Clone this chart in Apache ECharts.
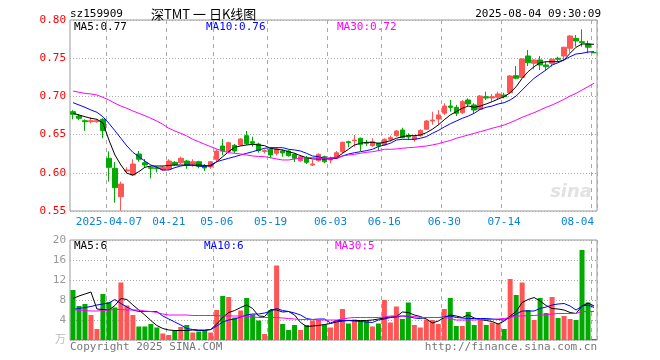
<!DOCTYPE html>
<html><head><meta charset="utf-8">
<script src="https://cdn.jsdelivr.net/npm/echarts@6/dist/echarts.min.js"></script>
<style>html,body{margin:0;padding:0;background:#fff}#c{width:660px;height:360px}</style>
</head><body><div id="c"></div>
<script>
const dates = ['2025-03-27','2025-03-28','2025-03-31','2025-04-01','2025-04-02','2025-04-03','2025-04-07','2025-04-08','2025-04-09','2025-04-10','2025-04-11','2025-04-14','2025-04-15','2025-04-16','2025-04-17','2025-04-18','2025-04-21','2025-04-22','2025-04-23','2025-04-24','2025-04-25','2025-04-28','2025-04-29','2025-04-30','2025-05-06','2025-05-07','2025-05-08','2025-05-09','2025-05-12','2025-05-13','2025-05-14','2025-05-15','2025-05-16','2025-05-19','2025-05-20','2025-05-21','2025-05-22','2025-05-23','2025-05-26','2025-05-27','2025-05-28','2025-05-29','2025-05-30','2025-06-03','2025-06-04','2025-06-05','2025-06-06','2025-06-09','2025-06-10','2025-06-11','2025-06-12','2025-06-13','2025-06-16','2025-06-17','2025-06-18','2025-06-19','2025-06-20','2025-06-23','2025-06-24','2025-06-25','2025-06-26','2025-06-27','2025-06-30','2025-07-01','2025-07-02','2025-07-03','2025-07-04','2025-07-07','2025-07-08','2025-07-09','2025-07-10','2025-07-11','2025-07-14','2025-07-15','2025-07-16','2025-07-17','2025-07-18','2025-07-21','2025-07-22','2025-07-23','2025-07-24','2025-07-25','2025-07-28','2025-07-29','2025-07-30','2025-07-31','2025-08-01','2025-08-04'];
const tickDates = ['2025-04-07','2025-04-21','2025-05-06','2025-05-19','2025-06-03','2025-06-16','2025-06-30','2025-07-14','2025-08-04'];

const opens = [0.680,0.6743,0.6682,0.6669,0.6669,0.670,0.619,0.6059,0.5687,0.6024,
0.5971,0.6246,0.6132,0.6067,0.6067,0.6037,0.605,0.6137,0.6132,0.6154,
0.6115,0.6145,0.6089,0.6076,0.6177,0.6351,0.6276,0.636,0.6364,0.6486,
0.6407,0.6377,0.628,0.6308,0.6255,0.6285,0.6285,0.6242,0.6158,0.6198,
0.6102,0.6158,0.6211,0.6168,0.619,0.6276,0.6407,0.642,0.6452,0.6394,
0.6355,0.6386,0.6364,0.6438,0.6486,0.656,0.6486,0.6438,0.6486,0.657,
0.6678,0.6705,0.678,0.6874,0.6857,0.6787,0.6953,0.6888,0.6831,0.6996,
0.6979,0.6988,0.7018,0.7048,0.7271,0.725,0.7529,0.7433,0.7477,0.7411,
0.7433,0.7499,0.7529,0.763,0.776,0.7716,0.7686,0.7572];
const closes = [0.6766,0.6713,0.6669,0.6682,0.6682,0.6551,0.6072,0.5805,0.5853,0.6037,
0.6115,0.6177,0.6102,0.6059,0.6054,0.6072,0.6154,0.6106,0.619,0.6098,
0.6145,0.6085,0.6063,0.6145,0.6285,0.6285,0.6394,0.6285,0.6442,0.6381,
0.6386,0.629,0.629,0.6233,0.6312,0.626,0.6224,0.619,0.6211,0.6137,
0.6115,0.6242,0.6145,0.6198,0.6263,0.6399,0.6394,0.6429,0.6373,0.6386,
0.6407,0.6351,0.6438,0.646,0.6547,0.646,0.6469,0.6473,0.6555,0.6678,
0.6691,0.6757,0.6874,0.6857,0.6779,0.6931,0.6901,0.6822,0.7005,0.6979,
0.6996,0.7032,0.6996,0.7267,0.7237,0.749,0.7441,0.7477,0.7411,0.7389,
0.7486,0.7486,0.7643,0.7791,0.7725,0.7703,0.7643,0.7572];
const lows = [0.670,0.669,0.655,0.6648,0.6656,0.6452,0.5884,0.5609,0.5504,0.5994,
0.5958,0.6145,0.6072,0.5928,0.6006,0.6024,0.6037,0.6089,0.6115,0.6054,
0.608,0.6059,0.6024,0.6054,0.6145,0.6229,0.6255,0.6255,0.6351,0.6364,
0.6342,0.6263,0.6255,0.619,0.6224,0.6211,0.6211,0.6141,0.6145,0.6115,
0.6089,0.6145,0.6125,0.6125,0.6177,0.6255,0.6334,0.6342,0.6285,0.6351,
0.6342,0.6285,0.6351,0.6407,0.6473,0.6452,0.6429,0.6407,0.6473,0.656,
0.663,0.6626,0.6757,0.680,0.6743,0.677,0.6874,0.677,0.6822,0.6953,
0.6931,0.6953,0.6975,0.704,0.7224,0.7237,0.7398,0.7355,0.7346,0.7346,
0.7389,0.7454,0.7477,0.757,0.7651,0.7651,0.7564,0.7572];
const highs = [0.682,0.677,0.670,0.6726,0.670,0.6717,0.6281,0.6141,0.5884,0.6072,
0.6177,0.6285,0.6181,0.6089,0.6089,0.6089,0.6177,0.6154,0.6211,0.6168,
0.6177,0.6158,0.6115,0.6154,0.6308,0.6442,0.6407,0.6377,0.6452,0.6547,
0.6473,0.6394,0.6308,0.6334,0.6334,0.6308,0.6299,0.6263,0.6233,0.622,
0.6168,0.6255,0.6224,0.6211,0.6285,0.6407,0.642,0.6495,0.646,0.6429,
0.6452,0.6394,0.6452,0.6486,0.656,0.659,0.6517,0.6495,0.657,0.6691,
0.680,0.6822,0.691,0.6953,0.6888,0.6953,0.6975,0.691,0.7018,0.7062,
0.7032,0.7062,0.7048,0.728,0.7398,0.7499,0.7607,0.7486,0.7529,0.7454,
0.7499,0.752,0.7651,0.7804,0.7804,0.7878,0.7729,0.7572];
const ma5 = [0.6779,0.6757,0.6734,0.6713,0.6700,0.6652,0.6429,0.6233,0.6102,0.5994,
0.5971,0.6015,0.6072,0.6089,0.6089,0.6089,0.6096,0.6102,0.6102,0.6102,
0.6102,0.6102,0.6096,0.6089,0.6145,0.6211,0.6276,0.6334,0.6351,0.6364,
0.6373,0.6364,0.6355,0.6321,0.6308,0.6299,0.6276,0.6255,0.6224,0.6198,
0.6181,0.6181,0.6181,0.6190,0.6198,0.6255,0.6308,0.6364,0.6386,0.6399,
0.6399,0.6386,0.6399,0.6420,0.6452,0.6473,0.6486,0.6486,0.6495,0.6525,
0.6570,0.6626,0.6695,0.6757,0.6800,0.6844,0.6874,0.6857,0.6874,0.6901,
0.6931,0.6966,0.6996,0.7048,0.7127,0.7237,0.7324,0.7389,0.7441,0.7454,
0.7454,0.7454,0.7477,0.7564,0.7643,0.7686,0.7686,0.7682];
const ma10 = [0.6918,0.6888,0.6857,0.6822,0.6792,0.6734,0.6648,0.6551,0.6452,0.6351,
0.6268,0.6211,0.6154,0.6102,0.6072,0.6037,0.6037,0.6067,0.6089,0.6102,
0.6098,0.6089,0.6080,0.6102,0.6145,0.6168,0.6190,0.6211,0.6233,0.6255,
0.6276,0.6299,0.6321,0.6329,0.6329,0.6329,0.6308,0.6299,0.6285,0.6255,
0.6220,0.6211,0.6190,0.6181,0.6190,0.6220,0.6246,0.6263,0.6276,0.6290,
0.6308,0.6342,0.6364,0.6386,0.6429,0.6438,0.6438,0.6438,0.6452,0.6473,
0.6517,0.6554,0.6600,0.6642,0.6678,0.6713,0.6743,0.6779,0.6831,0.6857,
0.6874,0.6901,0.6918,0.6953,0.7005,0.7084,0.7162,0.7237,0.7293,0.7346,
0.7411,0.7441,0.7477,0.7520,0.7555,0.7564,0.7581,0.7585];
const ma30 = [0.7071,0.7054,0.7040,0.7032,0.7018,0.6988,0.6953,0.6910,0.6874,0.6844,
0.6809,0.6779,0.6748,0.6713,0.6678,0.6635,0.6583,0.6547,0.6517,0.6482,
0.6438,0.6407,0.6373,0.6342,0.6312,0.6285,0.6263,0.6255,0.6246,0.6233,
0.6220,0.6214,0.6211,0.6198,0.6181,0.6168,0.6168,0.6181,0.6190,0.6198,
0.6198,0.6190,0.6190,0.6190,0.6198,0.6220,0.6233,0.6242,0.6255,0.6268,
0.6276,0.6290,0.6308,0.6308,0.6312,0.6321,0.6329,0.6334,0.6342,0.6351,
0.6364,0.6381,0.6403,0.6423,0.6452,0.6473,0.6495,0.6517,0.6538,0.6560,
0.6583,0.6604,0.6626,0.6656,0.6691,0.6726,0.6757,0.6787,0.6822,0.6857,
0.6888,0.6923,0.6962,0.7005,0.7040,0.7084,0.7127,0.7172];
const volumes = [10,6.8,7.2,5,2.2,9.2,7.6,6.5,11.5,6.9,
5,2.7,2.7,3.2,2.5,1.3,1.0,1.9,2.6,3.0,
1.5,1.7,1.9,1.5,6.0,8.8,8.6,4.5,5.9,8.4,
5.1,3.9,1.2,6.0,14.9,3.2,2.0,3.0,2.0,3.0,
3.9,4.0,3.1,2.5,4.0,6.2,3.3,4.1,3.9,3.9,
2.7,3.3,8.0,3.5,6.7,4.2,7.5,3.0,2.5,4.1,
4.0,3.2,6.2,8.4,2.8,2.8,5.6,3.0,4.1,3.0,
3.5,3.3,2.2,12.2,9.0,11.5,6.0,4.0,8.4,5.4,
8.6,4.4,4.8,4.2,4.0,18.0,7.5,0.2];
const volMa5 = [8.3,8.8,9.2,9.6,6.2,6.1,6.0,6.9,8.3,8.1,
7.0,6.0,5.0,3.9,2.9,2.3,2.0,1.9,1.9,1.9,
2.0,1.9,1.9,2.1,3.2,4.5,5.5,5.9,6.5,7.0,
6.3,4.8,4.7,6.1,6.0,5.6,5.7,5.0,3.5,2.7,
2.8,2.9,3.1,3.3,3.6,3.8,3.9,3.9,3.9,3.9,
4.0,4.2,4.4,4.6,4.7,5.6,5.5,5.0,4.7,4.2,
3.4,3.8,4.5,5.0,4.8,4.5,5.0,4.4,4.1,3.9,
3.7,3.2,3.8,4.8,5.7,7.5,8.1,8.5,7.8,6.9,
6.3,6.2,6.0,5.5,5.3,6.8,7.4,6.8];
const volMa10 = [6.1,6.3,6.5,6.7,7.0,7.2,7.4,8.1,7.3,6.6,
6.0,5.7,5.7,5.7,5.7,4.8,4.2,3.6,3.0,2.3,
2.1,2.0,2.0,2.1,2.8,3.6,4.0,4.2,4.6,5.0,
5.2,5.2,5.4,5.8,6.3,5.9,5.7,5.4,5.0,4.3,
4.1,4.2,4.2,3.4,3.9,3.9,3.9,3.8,3.7,3.6,
3.5,4.0,4.2,4.5,4.6,4.8,4.7,4.4,4.3,4.5,
4.5,4.5,4.6,4.8,4.5,4.4,4.3,4.3,4.3,4.3,
4.2,4.1,4.0,4.5,5.2,5.8,5.8,5.8,6.3,6.6,
7.0,7.2,7.3,6.8,6.0,6.8,7.0,6.5];
const volMa30 = [6.1,6.0,5.9,5.8,5.8,5.9,6.0,6.1,6.1,6.0,
6.0,6.0,5.8,5.7,5.5,5.2,5.0,5.0,5.0,5.0,
4.9,4.9,4.9,4.9,4.9,4.8,4.8,4.8,4.8,4.7,
4.6,4.5,4.5,4.5,4.5,4.4,4.3,4.2,4.1,4.1,
4.1,4.0,4.0,4.0,4.0,4.2,4.4,4.5,4.5,4.5,
4.5,4.5,4.6,4.8,4.8,4.8,4.8,4.7,4.5,4.5,
4.5,4.5,4.5,4.3,4.0,4.0,4.0,4.0,4.1,4.1,
4.1,4.2,4.3,4.5,4.8,4.8,4.9,4.9,5.0,5.0,
5.2,5.3,5.3,5.3,5.3,5.7,5.7,5.7];
const priceTicks = [0.55, 0.80, 0.05];
const volTicks = [0, 20, 4];

const UP = '#ff5555', DOWN = '#00aa00';
const MONO = 'DejaVu Sans Mono';
const candleData = dates.map((d, i) => [opens[i], closes[i], lows[i], highs[i]]);
const isUp = i => closes[i] > opens[i] || (closes[i] === opens[i] && i > 0 && closes[i] >= closes[i - 1]);
const volData = volumes.map((v, i) => ({ value: v, itemStyle: { color: isUp(i) ? UP : DOWN } }));
const tickSet = new Set(tickDates.map(t => dates.indexOf(t)));
const showTick = (idx) => tickSet.has(idx);
const last = a => a[a.length - 1];

const chart = echarts.init(document.getElementById('c'), null, { renderer: 'canvas' });
const dash = { show: true, interval: showTick, lineStyle: { color: '#aaa', type: [4, 4], width: 1 } };
const dotted = { show: true, lineStyle: { color: '#aaa', type: [1, 2], width: 1 } };
const txt = (x, y, text, color, extra) => Object.assign({
  type: 'text', x: x, y: y, silent: true,
  style: Object.assign({ text: text, fill: color, font: '11px ' + MONO, textVerticalAlign: 'middle' }, {})
}, extra || {});

chart.setOption({
  animation: false,
  backgroundColor: '#fff',
  grid: [
    { left: 70, right: 63, top: 20, height: 191, show: true, borderColor: '#999', borderWidth: 1, backgroundColor: 'transparent', outerBoundsMode: 'none', containLabel: false },
    { left: 70, right: 63, top: 240, height: 100, show: true, borderColor: '#999', borderWidth: 1, backgroundColor: 'transparent', outerBoundsMode: 'none', containLabel: false }
  ],
  xAxis: [
    { type: 'category', gridIndex: 0, data: dates, boundaryGap: true,
      axisLine: { show: false }, axisTick: { show: false },
      axisLabel: { show: true, interval: showTick, margin: 6, color: '#0a84d6', fontFamily: MONO, fontSize: 11,
        alignMaxLabel: 'right',
        formatter: (v, idx) => (v === tickDates[0] ? v : v.slice(5)) },
      splitLine: dash },
    { type: 'category', gridIndex: 1, data: dates, boundaryGap: true,
      axisLine: { show: false }, axisTick: { show: false }, axisLabel: { show: false },
      splitLine: dash }
  ],
  yAxis: [
    { type: 'value', gridIndex: 0, min: priceTicks[0], max: priceTicks[1], interval: priceTicks[2], scale: true,
      axisLine: { show: false }, axisTick: { show: false },
      axisLabel: { color: '#ff0000', fontFamily: MONO, fontSize: 11, margin: 4, formatter: v => v.toFixed(2) },
      splitLine: dotted },
    { type: 'value', gridIndex: 1, min: volTicks[0], max: volTicks[1], interval: volTicks[2],
      axisLine: { show: false }, axisTick: { show: false },
      axisLabel: { color: '#999', fontFamily: MONO, fontSize: 11, margin: 4, formatter: v => (v === 0 ? '' : String(v)) },
      splitLine: dotted }
  ],
  series: [
    { type: 'candlestick', xAxisIndex: 0, yAxisIndex: 0, data: candleData, barWidth: 5,
      itemStyle: { color: UP, color0: DOWN, borderColor: UP, borderColor0: DOWN, borderWidth: 1 } },
    { type: 'line', xAxisIndex: 0, yAxisIndex: 0, data: ma5, symbol: 'none', lineStyle: { color: '#000', width: 1 } },
    { type: 'line', xAxisIndex: 0, yAxisIndex: 0, data: ma10, symbol: 'none', lineStyle: { color: '#0000ff', width: 1 } },
    { type: 'line', xAxisIndex: 0, yAxisIndex: 0, data: ma30, symbol: 'none', lineStyle: { color: '#ff00ff', width: 1 } },
    { type: 'bar', xAxisIndex: 1, yAxisIndex: 1, data: volData, barWidth: 5 },
    { type: 'line', xAxisIndex: 1, yAxisIndex: 1, data: volMa5, symbol: 'none', lineStyle: { color: '#000', width: 1 } },
    { type: 'line', xAxisIndex: 1, yAxisIndex: 1, data: volMa10, symbol: 'none', lineStyle: { color: '#0000ff', width: 1 } },
    { type: 'line', xAxisIndex: 1, yAxisIndex: 1, data: volMa30, symbol: 'none', lineStyle: { color: '#ff00ff', width: 1 } }
  ],
  graphic: [
    txt(70, 14, 'sz159909', '#000'),
    { type: 'text', x: 151, y: 14, silent: true, style: { text: '深TMT 一 日K线图', fill: '#000', font: '13px "Noto Sans CJK SC"', textVerticalAlign: 'middle' } },
    { type: 'text', x: 601, y: 14, silent: true, style: { text: '2025-08-04 09:30:09', fill: '#000', font: '11px ' + MONO, textAlign: 'right', textVerticalAlign: 'middle' } },
    txt(74, 27, 'MA5:' + last(ma5).toFixed(2), '#000'),
    txt(206, 27, 'MA10:' + last(ma10).toFixed(2), '#0000ff'),
    txt(337, 27, 'MA30:' + last(ma30).toFixed(2), '#ff00ff'),
    txt(74, 246, 'MA5:' + Math.floor(last(volMa5)), '#000'),
    txt(204, 246, 'MA10:' + Math.floor(last(volMa10)), '#0000ff'),
    txt(335, 246, 'MA30:' + Math.floor(last(volMa30)), '#ff00ff'),
    { type: 'text', x: 66, y: 339, silent: true, style: { text: '万', fill: '#bbb', font: '11px "Noto Sans CJK SC"', textAlign: 'right', textVerticalAlign: 'middle' } },
    txt(70, 347, 'Copyright 2025 SINA.COM', '#777'),
    { type: 'text', x: 597, y: 347, silent: true, style: { text: 'http://finance.sina.com.cn', fill: '#777', font: '11px ' + MONO, textAlign: 'right', textVerticalAlign: 'middle' } },
    { type: 'text', x: 592, y: 192, silent: true, style: { text: 'sina', fill: '#e2e2e2', font: 'italic bold 18px "DejaVu Sans"', textAlign: 'right', textVerticalAlign: 'middle' } }
  ]
});
</script>
</body></html>
